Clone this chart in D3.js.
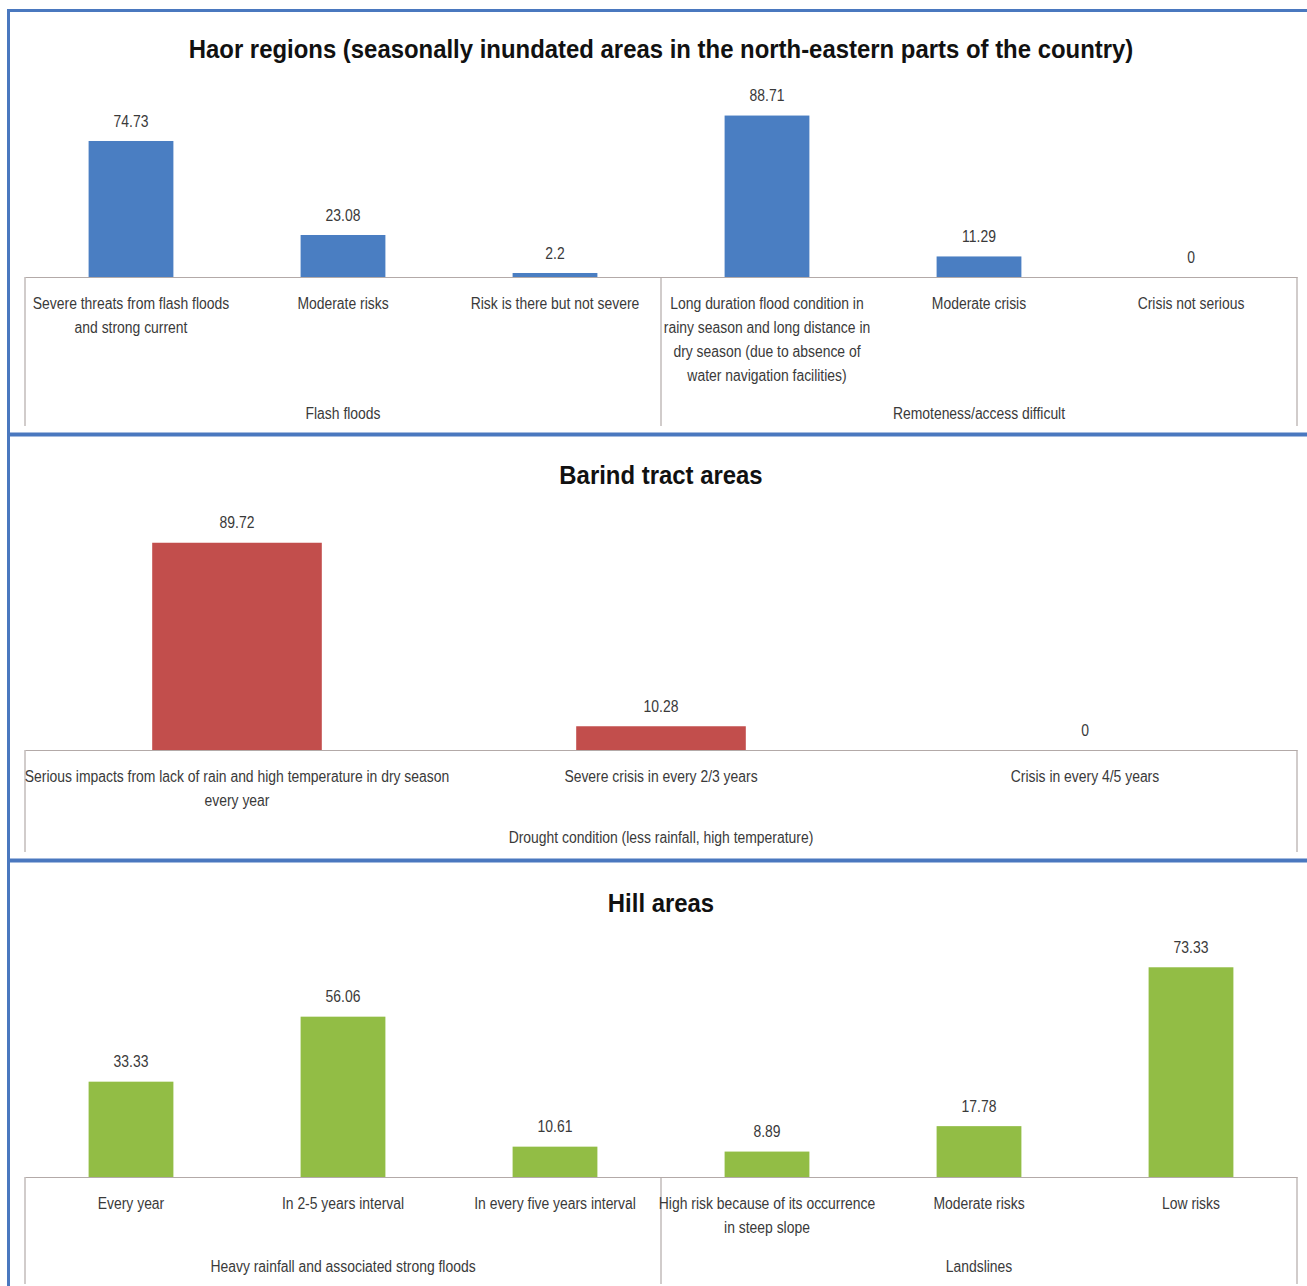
<!DOCTYPE html>
<html>
<head>
<meta charset="utf-8">
<script src="https://cdn.jsdelivr.net/npm/d3@7"></script>
<style>
  html, body { margin: 0; padding: 0; background: #ffffff; }
  svg text { font-family: "Liberation Sans", Arial, sans-serif; }
</style>
</head>
<body>
<svg id="chart" width="1307" height="1286"></svg>
<script>
// ---------------- DATA ----------------
const haorTitle = "Haor regions (seasonally inundated areas in the north-eastern parts of the country)";
const haorCategories = [
  "Severe threats from flash floods|and strong current",
  "Moderate risks",
  "Risk is there but not severe",
  "Long duration flood condition in|rainy season and long distance in|dry season (due to absence of|water navigation facilities)",
  "Moderate crisis",
  "Crisis not serious"
];
const haorValues = [74.73, 23.08, 2.2, 88.71, 11.29, 0];
const haorGroups = ["Flash floods", "Remoteness/access difficult"];
const haorGroupSizes = [3, 3];

const barindTitle = "Barind tract areas";
const barindCategories = [
  "Serious impacts from lack of rain and high temperature in dry season|every year",
  "Severe crisis in every 2/3 years",
  "Crisis in every 4/5 years"
];
const barindValues = [89.72, 10.28, 0];
const barindGroups = ["Drought condition (less rainfall, high temperature)"];
const barindGroupSizes = [3];

const hillTitle = "Hill areas";
const hillCategories = [
  "Every year",
  "In 2-5 years interval",
  "In every five years interval",
  "High risk because of its occurrence|in steep slope",
  "Moderate risks",
  "Low risks"
];
const hillValues = [33.33, 56.06, 10.61, 8.89, 17.78, 73.33];
const hillGroups = ["Heavy rainfall and associated strong floods", "Landslines"];
const hillGroupSizes = [3, 3];

// ---------------- DRAW ----------------
const svg = d3.select("#chart");
const W = 1307, H = 1286;
const plotLeft = 25, plotRight = 1297;
const axisColor = "#b3aaa8";
const textColor = "#3a3a3a";
const SX = 0.87;        // horizontal condensing to imitate a narrow font
const TITLE_SX = 0.92;

// text placed in a condensed group
function ctext(parent, x, y, str, opts) {
  const g = parent.append("g")
    .attr("transform", `translate(${x},${y}) scale(${opts.sx || SX},1)`);
  return g.append("text")
    .attr("x", 0).attr("y", 0).attr("dy", "0.35em")
    .attr("text-anchor", "middle")
    .attr("font-size", opts.size || 16)
    .attr("font-weight", opts.weight || "normal")
    .attr("fill", opts.fill || textColor)
    .text(str);
}

function drawPanel(cfg) {
  const g = svg.append("g");
  ctext(g, 661, cfg.titleY, cfg.title, { size: 26, weight: "bold", fill: "#111", sx: TITLE_SX });

  const n = cfg.values.length;
  const idx = d3.range(n);
  const xCat = d3.scaleBand().domain(idx).range([plotLeft, plotRight]).padding(0);
  const xBar = d3.scaleBand().domain(idx).range([plotLeft, plotRight]).paddingInner(0.6).paddingOuter(0.3);
  const y = d3.scaleLinear().domain([0, 100]).range([cfg.baseY, cfg.topY]);
  const cx = i => xCat(i) + xCat.bandwidth() / 2;

  // bars
  g.selectAll("rect.bar").data(cfg.values).enter().append("rect")
    .attr("class", "bar")
    .attr("x", (d, i) => xBar(i))
    .attr("width", xBar.bandwidth())
    .attr("y", d => y(d))
    .attr("height", d => y(0) - y(d))
    .attr("fill", cfg.color);

  // value labels
  cfg.values.forEach((v, i) => ctext(g, cx(i), y(v) - 20, String(v), { size: 16 }));

  // axis line (category axis)
  const axis = d3.axisBottom(xCat).tickSize(0).tickFormat("");
  const ax = g.append("g").attr("transform", `translate(0,${cfg.baseY})`).call(axis);
  ax.select(".domain").attr("stroke", axisColor).attr("stroke-width", 1.2);

  // group boundary lines
  let bounds = [0];
  cfg.groupSizes.forEach(s => bounds.push(bounds[bounds.length - 1] + s));
  const bx = bounds.map(b => b < n ? xCat(b) : plotRight);
  g.selectAll("line.gb").data(bx).enter().append("line")
    .attr("class", "gb")
    .attr("x1", d => d).attr("x2", d => d)
    .attr("y1", cfg.baseY).attr("y2", cfg.boxBottom)
    .attr("stroke", axisColor).attr("stroke-width", 1.2);

  // category labels
  cfg.categories.forEach((c, i) => {
    c.split("|").forEach((ln, k) => ctext(g, cx(i), cfg.baseY + 26 + k * 24, ln, { size: 16 }));
  });

  // group labels
  cfg.groups.forEach((gr, i) => ctext(g, (bx[i] + bx[i + 1]) / 2, cfg.groupY, gr, { size: 16 }));
}

drawPanel({
  title: haorTitle, titleY: 49,
  categories: haorCategories, values: haorValues,
  groups: haorGroups, groupSizes: haorGroupSizes,
  baseY: 277, topY: 95, boxBottom: 426, groupY: 413,
  color: "#4a7ec2"
});
drawPanel({
  title: barindTitle, titleY: 475,
  categories: barindCategories, values: barindValues,
  groups: barindGroups, groupSizes: barindGroupSizes,
  baseY: 750, topY: 519, boxBottom: 852, groupY: 837,
  color: "#c24e4c"
});
drawPanel({
  title: hillTitle, titleY: 903,
  categories: hillCategories, values: hillValues,
  groups: hillGroups, groupSizes: hillGroupSizes,
  baseY: 1177, topY: 891, boxBottom: 1284, groupY: 1266,
  color: "#92bd45"
});

// blue frame
const frame = svg.append("g").attr("stroke", "#4a78bf").attr("fill", "none");
frame.append("line").attr("x1", 7).attr("x2", W).attr("y1", 10.5).attr("y2", 10.5).attr("stroke-width", 3);
frame.append("line").attr("x1", 8.5).attr("x2", 8.5).attr("y1", 9).attr("y2", H).attr("stroke-width", 3);
frame.append("line").attr("x1", 7).attr("x2", W).attr("y1", 434.5).attr("y2", 434.5).attr("stroke-width", 4);
frame.append("line").attr("x1", 7).attr("x2", W).attr("y1", 860.5).attr("y2", 860.5).attr("stroke-width", 4);
</script>
</body>
</html>
